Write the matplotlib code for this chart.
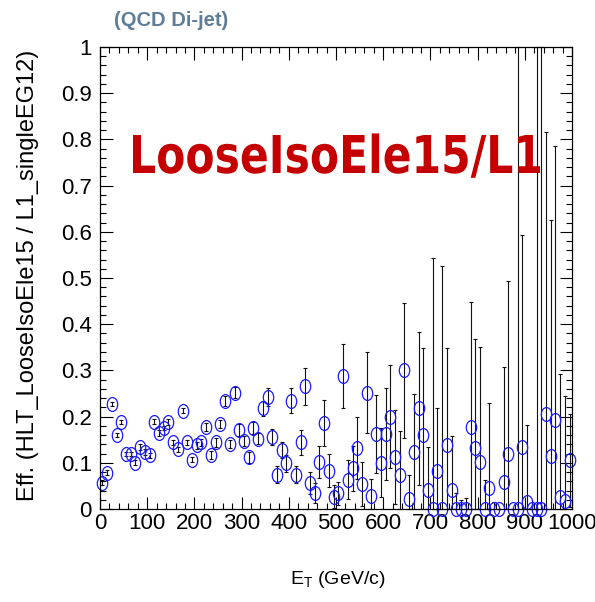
import numpy as np
import matplotlib
matplotlib.use('Agg')
import matplotlib.pyplot as plt
from matplotlib.path import Path
from matplotlib.patches import PathPatch
from matplotlib.textpath import TextPath
from matplotlib.font_manager import FontProperties
from matplotlib.transforms import Affine2D
from matplotlib.ticker import MultipleLocator, FormatStrFormatter

# efficiency per 10 GeV bin, 0..1000 GeV
bin_lo = 0
bin_width = 10
eff = [0.057, 0.079, 0.227, 0.160, 0.188, 0.119, 0.119, 0.100, 0.134, 0.123,
       0.116, 0.189, 0.165, 0.175, 0.188, 0.144, 0.129, 0.213, 0.144, 0.107,
       0.138, 0.144, 0.177, 0.117, 0.144, 0.184, 0.234, 0.141, 0.252, 0.171,
       0.147, 0.112, 0.175, 0.152, 0.218, 0.243, 0.156, 0.074, 0.128, 0.099,
       0.234, 0.074, 0.144, 0.266, 0.057, 0.034, 0.102, 0.187, 0.083, 0.027,
       0.034, 0.288, 0.063, 0.088, 0.133, 0.054, 0.252, 0.029, 0.162, 0.100,
       0.162, 0.200, 0.112, 0.074, 0.300, 0.021, 0.124, 0.218, 0.160, 0.041,
       0.0, 0.083, 0.0, 0.139, 0.041, 0.0, 0.0, 0.0, 0.178, 0.131,
       0.102, 0.0, 0.045, 0.0, 0.0, 0.059, 0.120, 0.0, 0.0, 0.135,
       0.016, 0.0, 0.0, 0.0, 0.205, 0.115, 0.193, 0.025, 0.017, 0.105]
err = [0.006, 0.005, 0.004, 0.005, 0.004, 0.005, 0.005, 0.005, 0.006, 0.006,
       0.006, 0.005, 0.006, 0.005, 0.006, 0.006, 0.006, 0.005, 0.006, 0.006,
       0.008, 0.008, 0.009, 0.008, 0.009, 0.009, 0.010, 0.009, 0.011, 0.012,
       0.011, 0.012, 0.013, 0.012, 0.016, 0.019, 0.018, 0.018, 0.017, 0.018,
       0.027, 0.018, 0.027, 0.040, 0.024, 0.022, 0.034, 0.050, 0.036, 0.025,
       0.025, 0.069, 0.042, 0.048, 0.067, 0.048, 0.087, 0.037, 0.085, 0.075,
       0.099, 0.112, 0.102, 0.094, 0.146, 0.053, 0.126, 0.166, 0.188, 0.094,
       0.543, 0.135, 0.527, 0.209, 0.116, 0.034, 0.020, 0.024, 0.269, 0.238,
       0.249, 0.063, 0.184, 0.016, 0.0, 0.248, 0.373, 0.0, 1.0, 0.457,
       0.166, 0.0, 1.0, 1.0, 0.612, 0.510, 0.593, 0.267, 0.228, 0.100]

eff = np.array(eff)
err = np.array(err)
x = bin_lo + bin_width * (np.arange(len(eff)) + 0.5)
# root clips the bars at the frame
lo = np.minimum(err, eff)
hi = np.minimum(err, 1 - eff)

W, H = 595, 602
fig = plt.figure(figsize=(W/100, H/100), dpi=100)
ax = fig.add_axes([100/W, 93/H, 472/W, 462/H])

# tall ellipse marker (the picture is stretched vertically)
circ = Path.unit_circle()
ell = Path(circ.vertices * [0.75, 1.0], circ.codes)

ax.errorbar(x, eff, yerr=[lo, hi], fmt='none', ecolor='#111111', elinewidth=0.8,
            capsize=1.6, capthick=0.8, clip_on=False)
ax.plot(x, eff, linestyle='none', marker=ell, markersize=10, mfc='none',
        mec='#1a1aff', mew=0.9, clip_on=False)

ax.set_xlim(0, 1000)
ax.set_ylim(0, 1)
ax.xaxis.set_major_locator(MultipleLocator(100))
ax.xaxis.set_minor_locator(MultipleLocator(20))
ax.yaxis.set_major_locator(MultipleLocator(0.1))
ax.yaxis.set_minor_locator(MultipleLocator(0.02))
ax.yaxis.set_major_formatter(FormatStrFormatter('%g'))
ax.tick_params(which='both', direction='in', top=True, right=True, width=0.8)
ax.tick_params(which='major', length=9)
ax.tick_params(which='minor', length=4.5)
ax.tick_params(axis='x', pad=3)
ax.tick_params(axis='y', pad=6)
for lab in ax.get_xticklabels() + ax.get_yticklabels():
    lab.set_family('Liberation Sans')
    lab.set_fontsize(16)
for s in ax.spines.values():
    s.set_linewidth(0.9)

fig.text(28/W, 1 - 275/H, 'Eff. (HLT_LooseIsoEle15 / L1_singleEG12)',
         rotation=90, ha='center', va='center', fontsize=17, family='Liberation Sans')
fig.text(338/W, 1 - 580/H, r'E$_{\mathregular{T}}$ (GeV/c)', ha='center', va='center',
         fontsize=14, family='Liberation Sans')
fig.text(171/W, 1 - 21/H, '(QCD Di-jet)', ha='center', va='center',
         fontsize=14.5, fontweight='bold', color='#5f7d96', family='Liberation Sans')

# big red label, stretched vertically like the rest of the picture
label = 'LooseIsoEle15/L1'
tp = TextPath((0, 0), label, size=1, prop=FontProperties(family='DejaVu Sans', weight='bold'))
ext = tp.get_extents()
x0, x1 = 133, 540          # pixel span of the label
base, cap = 173, 38         # baseline (from top) and cap height in pixels
sx = (x1 - x0) / ext.width
sy = cap / 0.729
tr = Affine2D().translate(-ext.x0, 0).scale(sx, sy).translate(x0, H - base)
tr = tr + Affine2D().scale(1 / 100) + fig.dpi_scale_trans
fig.patches.append(PathPatch(tp, transform=tr, facecolor='#c40000', edgecolor='none'))

fig.savefig('out.png', dpi=100)
